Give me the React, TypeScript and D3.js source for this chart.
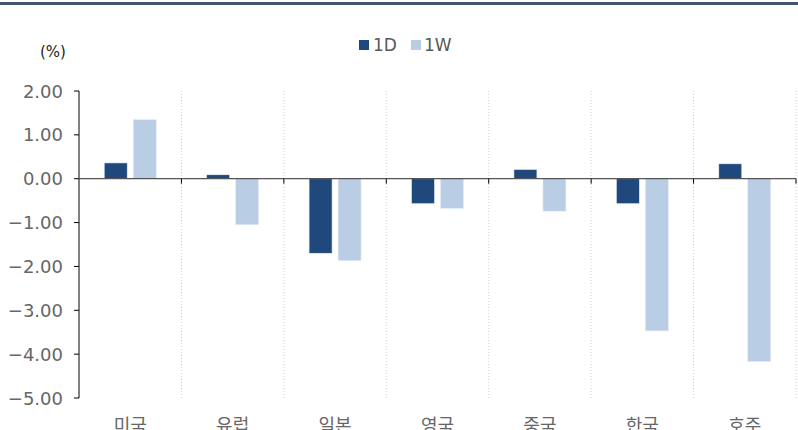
import React from 'react';
import * as d3 from 'd3';

const categories = ['미국', '유럽', '일본', '영국', '중국', '한국', '호주'];
const series = ['1D', '1W'];
const d1 = [0.36, 0.09, -1.7, -0.57, 0.21, -0.57, 0.34];
const w1 = [1.35, -1.05, -1.87, -0.68, -0.74, -3.47, -4.17];
const yTicks = [2, 1, 0, -1, -2, -3, -4, -5];
const colors = ['#1f497d', '#b9cde5'];

const W = 798;
const H = 430;
const left = 79;
const right = 796;
const top = 91;
const bottom = 398;

const App = () => {
  const x = d3.scaleBand<string>().domain(categories).range([left, right]).padding(0);
  const y = d3.scaleLinear().domain([-5, 2]).range([bottom, top]);
  const inner = d3.scaleBand<string>().domain(series).range([0, x.bandwidth()])
    .paddingInner(0.207).paddingOuter(0.87);
  const fmt = d3.format('.2f');
  const kfont = "'Noto Sans CJK KR', sans-serif";
  const nfont = "'DejaVu Sans', sans-serif";
  const vals = [d1, w1];

  return (
    <svg width={W} height={H} style={{ position: 'absolute', left: 0, top: 0 }}>
      <rect x={0} y={0} width={W} height={H} fill="#fff" />
      <rect x={0} y={2} width={W} height={3} fill="#44546a" />

      {/* legend */}
      <g transform="translate(359, 45)" fontFamily={nfont}>
        <rect x={0} y={-5} width={10} height={10} fill={colors[0]} />
        <text x={14} y={6} fontSize={17} fill="#595959">1D</text>
        <rect x={52} y={-5} width={10} height={10} fill={colors[1]} />
        <text x={65} y={6} fontSize={17} fill="#595959">1W</text>
      </g>
      <text x={40} y={57} fontSize={15} fill="#222" fontFamily={nfont}>(%)</text>

      {/* dotted grid between categories */}
      {categories.map((c) => (
        <line key={c} x1={x(c)! + x.bandwidth()} x2={x(c)! + x.bandwidth()} y1={top} y2={bottom}
          stroke="#d0d0d0" strokeDasharray="1,2" />
      ))}

      {/* bars */}
      {categories.map((c, i) => (
        <g key={c} transform={`translate(${x(c)},0)`}>
          {series.map((s, k) => {
            const v = vals[k][i];
            return (
              <rect key={s} x={inner(s)} width={inner.bandwidth()}
                y={y(Math.max(0, v))} height={Math.abs(y(v) - y(0))}
                fill={colors[k]} stroke="#e8eef6" strokeWidth={0.6} />
            );
          })}
        </g>
      ))}

      {/* y axis */}
      <line x1={left} x2={left} y1={top} y2={bottom} stroke="#000" strokeWidth={1} />
      {yTicks.map((t) => (
        <g key={t}>
          <line x1={left - 5} x2={left} y1={y(t)} y2={y(t)} stroke="#000" />
          <text x={63} y={y(t) + 6.5} textAnchor="end" fontSize={18} fill="#666" fontFamily={nfont}>
            {(t < 0 ? '\u2212' : '') + fmt(Math.abs(t))}
          </text>
        </g>
      ))}

      {/* zero line + category ticks */}
      <line x1={left} x2={right} y1={y(0)} y2={y(0)} stroke="#555" strokeWidth={1.3} />
      {categories.map((c) => (
        <line key={c} x1={x(c)! + x.bandwidth()} x2={x(c)! + x.bandwidth()} y1={y(0)} y2={y(0) + 5}
          stroke="#000" />
      ))}

      {categories.map((c) => (
        <text key={c} x={x(c)! + x.bandwidth() / 2} y={432} textAnchor="middle" fontSize={18} fill="#666"
          fontFamily={kfont}>
          {c}
        </text>
      ))}
    </svg>
  );
};

export default App;
